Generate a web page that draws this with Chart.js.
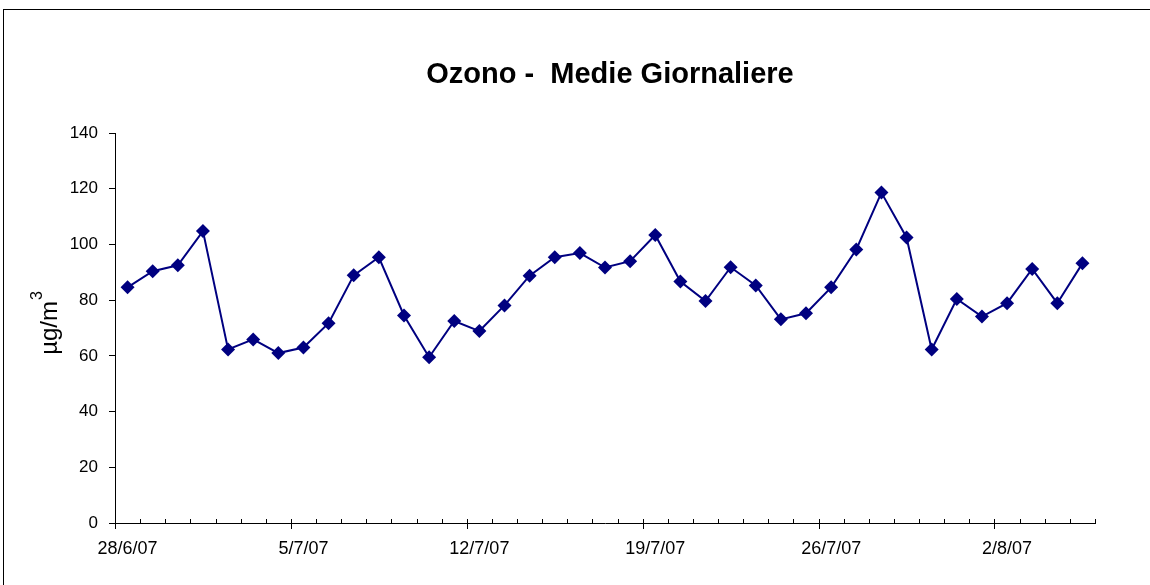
<!DOCTYPE html>
<html>
<head>
<meta charset="utf-8">
<title>Ozono - Medie Giornaliere</title>
<script src="https://cdn.jsdelivr.net/npm/chart.js@4/dist/chart.umd.min.js"></script>
<style>
    html, body { margin: 0; padding: 0; background: #fff; overflow: hidden; }
    #wrap { position: relative; width: 1150px; height: 585px; }
    #frame { position: absolute; left: 3px; top: 9px; width: 1300px; height: 700px;
             border-left: 1px solid #000; border-top: 1px solid #000; }
    #chart { position: absolute; left: 0; top: 0; }
</style>
</head>
<body>
<div id="wrap">
    <div id="frame"></div>
    <canvas id="chart" width="1150" height="585"></canvas>
</div>
<script>
// Daily dates, 28/6/07 .. 5/8/07
const dates = [
    '28/6/07', '29/6/07', '30/6/07', '1/7/07', '2/7/07', '3/7/07', '4/7/07',
    '5/7/07', '6/7/07', '7/7/07', '8/7/07', '9/7/07', '10/7/07', '11/7/07',
    '12/7/07', '13/7/07', '14/7/07', '15/7/07', '16/7/07', '17/7/07', '18/7/07',
    '19/7/07', '20/7/07', '21/7/07', '22/7/07', '23/7/07', '24/7/07', '25/7/07',
    '26/7/07', '27/7/07', '28/7/07', '29/7/07', '30/7/07', '31/7/07', '1/8/07',
    '2/8/07', '3/8/07', '4/8/07', '5/8/07'
];

// Ozone daily averages (µg/m3)
const ozono = [
    84.6, 90.4, 92.5, 104.8, 62.3, 65.9, 61.0,
    63.0, 71.7, 88.9, 95.4, 74.5, 59.5, 72.5,
    68.9, 78.1, 88.8, 95.4, 96.9, 91.7, 94.0,
    103.4, 86.7, 79.7, 91.8, 85.3, 73.1, 75.3,
    84.6, 98.2, 118.6, 102.5, 62.3, 80.4, 74.1,
    78.9, 91.2, 78.9, 93.2
];

const yTicks = [0, 20, 40, 60, 80, 100, 120, 140];
const labelEvery = 7;

const FONT = "'Liberation Sans', Arial, sans-serif";

// Title centred over the plot area
const titlePlugin = {
    id: 'plotTitle',
    afterDraw(chart) {
        const ctx = chart.ctx;
        const area = chart.chartArea;
        ctx.save();
        ctx.font = 'bold 29px ' + FONT;
        ctx.fillStyle = '#000';
        ctx.textAlign = 'center';
        ctx.textBaseline = 'middle';
        ctx.fillText('Ozono -  Medie Giornaliere', (area.left + area.right) / 2 + 5, 75);
        ctx.restore();
    }
};

// Rotated y-axis title with a real superscript "3"
const yTitlePlugin = {
    id: 'yTitle',
    afterDraw(chart) {
        const ctx = chart.ctx;
        ctx.save();
        ctx.fillStyle = '#000';
        ctx.textBaseline = 'alphabetic';
        ctx.textAlign = 'left';
        ctx.font = '24px ' + FONT;
        const main = 'µg/m';
        const w = ctx.measureText(main).width;
        ctx.font = '16px ' + FONT;
        const sw = ctx.measureText('3').width;
        const total = w + 1 + sw;
        ctx.translate(57, 323 + total / 2);
        ctx.rotate(-Math.PI / 2);
        ctx.font = '24px ' + FONT;
        ctx.fillText(main, 0, 0);
        ctx.font = '16px ' + FONT;
        ctx.fillText('3', w + 1, -15);
        ctx.restore();
    }
};

// Excel-style date axis: small ticks inside every day, longer ticks outside every week
const xTickPlugin = {
    id: 'xTicks',
    afterDraw(chart) {
        const ctx = chart.ctx;
        const sc = chart.scales.x;
        const n = dates.length;
        const step = (sc.right - sc.left) / n;
        const y = sc.top;
        ctx.save();
        ctx.strokeStyle = '#000';
        ctx.lineWidth = 1;
        ctx.beginPath();
        for (let i = 0; i <= n; i++) {
            const x = Math.round(sc.left + i * step) + 0.5;
            ctx.moveTo(x, y - 4);
            ctx.lineTo(x, y);
            if (i % labelEvery === 0) {
                ctx.moveTo(x, y);
                ctx.lineTo(x, y + 6);
            }
        }
        ctx.stroke();
        ctx.restore();
    }
};

const ctx = document.getElementById('chart').getContext('2d');
new Chart(ctx, {
    type: 'line',
    data: {
        labels: dates,
        datasets: [{
            label: 'Ozono',
            data: ozono,
            borderColor: '#000080',
            backgroundColor: '#000080',
            borderWidth: 2,
            pointStyle: 'rectRot',
            pointRadius: 7,
            pointBorderWidth: 0,
            tension: 0,
            clip: false
        }]
    },
    options: {
        responsive: false,
        animation: false,
        events: [],
        layout: { padding: { top: 133, right: 55, bottom: 0, left: 0 } },
        plugins: {
            legend: { display: false },
            title: { display: false },
            tooltip: { enabled: false }
        },
        scales: {
            x: {
                type: 'category',
                offset: true,
                afterFit(scale) { scale.height = 62; },
                grid: { display: false, drawTicks: false, offset: true },
                border: { display: true, color: '#000', width: 1 },
                ticks: {
                    autoSkip: false,
                    maxRotation: 0,
                    padding: 15,
                    color: '#000',
                    font: { family: FONT, size: 18 },
                    callback: (v, i) => (i % labelEvery === 0 ? dates[i] : '')
                }
            },
            y: {
                min: 0,
                max: 140,
                afterFit(scale) { scale.width = 115; },
                afterBuildTicks(scale) { scale.ticks = yTicks.map(v => ({ value: v })); },
                grid: { drawOnChartArea: false, drawTicks: true, tickLength: 6, color: '#000' },
                border: { display: true, color: '#000', width: 1 },
                ticks: {
                    padding: 11,
                    color: '#000',
                    font: { family: FONT, size: 17 }
                }
            }
        }
    },
    plugins: [titlePlugin, yTitlePlugin, xTickPlugin]
});
</script>
</body>
</html>
